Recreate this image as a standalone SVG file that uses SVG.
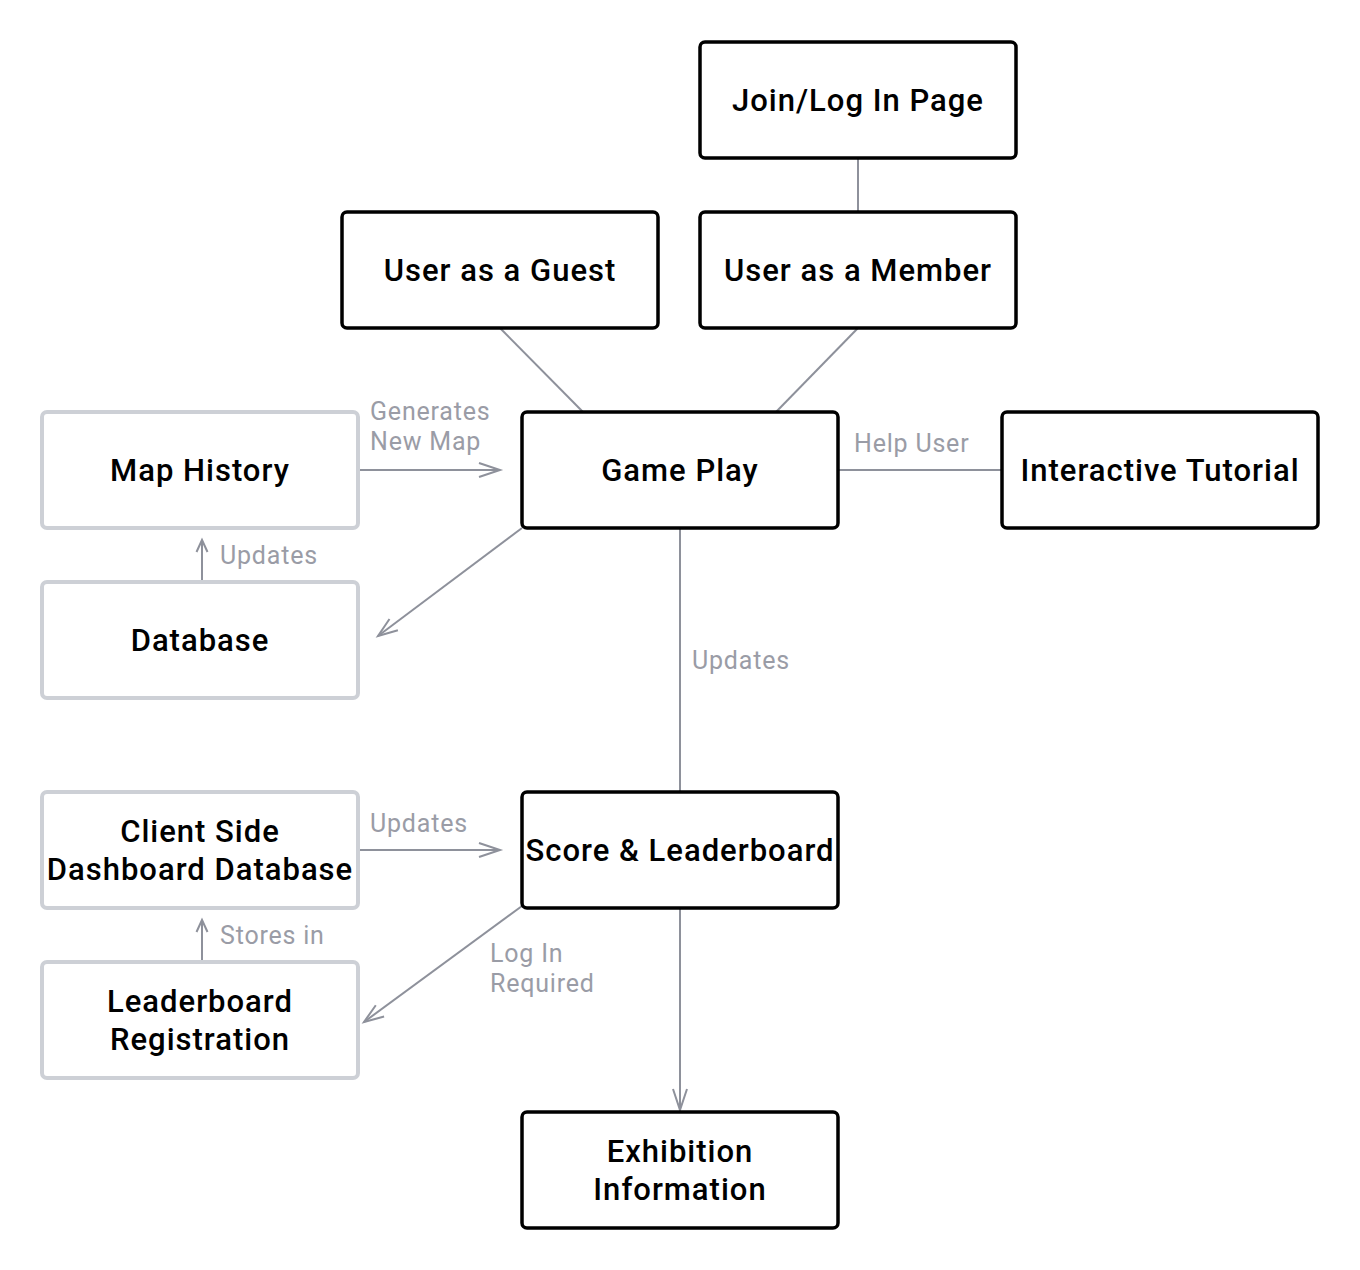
<svg xmlns="http://www.w3.org/2000/svg" width="1360" height="1270" viewBox="0 0 1360 1270">
<style>
.nb{fill:#fff;stroke:#000;stroke-width:3.5}
.ng{fill:#fff;stroke:#cdd0d6;stroke-width:4}
.t{font-family:Roboto,"Liberation Sans",sans-serif;font-weight:500;font-size:31px;letter-spacing:1px;fill:#000;text-anchor:middle}
.l{font-family:Roboto,"Liberation Sans",sans-serif;font-size:25px;letter-spacing:0.8px;fill:#9a9ca6}
.c{fill:none;stroke:#8e919b;stroke-width:2}
</style>
<rect width="1360" height="1270" fill="#fff"/>
<g id="connectors">
<line class="c" x1="858" y1="158" x2="858" y2="212"/>
<line class="c" x1="500" y1="328" x2="583" y2="412"/>
<line class="c" x1="858" y1="328" x2="776" y2="412"/>
<line class="c" x1="358" y1="470" x2="500" y2="470"/>
<path class="c" d="M479,463 L500,470 L479,477"/>
<line class="c" x1="838" y1="470" x2="1002" y2="470"/>
<line class="c" x1="522" y1="528" x2="378" y2="636"/>
<path class="c" d="M389.5,619 L378,636 L397.9,630.2"/>
<line class="c" x1="202" y1="582" x2="202" y2="540"/>
<path class="c" d="M196.5,552 L202,540 L207.5,552"/>
<line class="c" x1="680" y1="528" x2="680" y2="792"/>
<line class="c" x1="358" y1="850" x2="500" y2="850"/>
<path class="c" d="M479,843 L500,850 L479,857"/>
<line class="c" x1="202" y1="962" x2="202" y2="920"/>
<path class="c" d="M196.5,932 L202,920 L207.5,932"/>
<line class="c" x1="522" y1="906" x2="364" y2="1022"/>
<path class="c" d="M375.8,1005.2 L364,1022 L384.1,1016.5"/>
<line class="c" x1="680" y1="908" x2="680" y2="1110"/>
<path class="c" d="M673,1089 L680,1110 L687,1089"/>
<text class="l" x="370" y="420">Generates</text>
<text class="l" x="370" y="450">New Map</text>
<text class="l" x="854" y="452">Help User</text>
<text class="l" x="220" y="564">Updates</text>
<text class="l" x="692" y="669">Updates</text>
<text class="l" x="370" y="832">Updates</text>
<text class="l" x="220" y="944">Stores in</text>
<text class="l" x="490" y="962">Log In</text>
<text class="l" x="490" y="992">Required</text>
</g>
<g id="join"><rect class="nb" x="700" y="42" width="316" height="116" rx="5"/><text class="t" x="858" y="111">Join/Log In Page</text></g>
<g id="guest"><rect class="nb" x="342" y="212" width="316" height="116" rx="5"/><text class="t" x="500" y="281">User as a Guest</text></g>
<g id="member"><rect class="nb" x="700" y="212" width="316" height="116" rx="5"/><text class="t" x="858" y="281">User as a Member</text></g>
<g id="gameplay"><rect class="nb" x="522" y="412" width="316" height="116" rx="5"/><text class="t" x="680" y="481">Game Play</text></g>
<g id="tutorial"><rect class="nb" x="1002" y="412" width="316" height="116" rx="5"/><text class="t" x="1160" y="481">Interactive Tutorial</text></g>
<g id="maphistory"><rect class="ng" x="42" y="412" width="316" height="116" rx="5"/><text class="t" x="200" y="481">Map History</text></g>
<g id="database"><rect class="ng" x="42" y="582" width="316" height="116" rx="5"/><text class="t" x="200" y="651">Database</text></g>
<g id="clientside"><rect class="ng" x="42" y="792" width="316" height="116" rx="5"/><text class="t" x="200" y="842">Client Side</text><text class="t" x="200" y="880">Dashboard Database</text></g>
<g id="score"><rect class="nb" x="522" y="792" width="316" height="116" rx="5"/><text class="t" x="680" y="861">Score &amp; Leaderboard</text></g>
<g id="registration"><rect class="ng" x="42" y="962" width="316" height="116" rx="5"/><text class="t" x="200" y="1012">Leaderboard</text><text class="t" x="200" y="1050">Registration</text></g>
<g id="exhibition"><rect class="nb" x="522" y="1112" width="316" height="116" rx="5"/><text class="t" x="680" y="1162">Exhibition</text><text class="t" x="680" y="1200">Information</text></g>
</svg>
